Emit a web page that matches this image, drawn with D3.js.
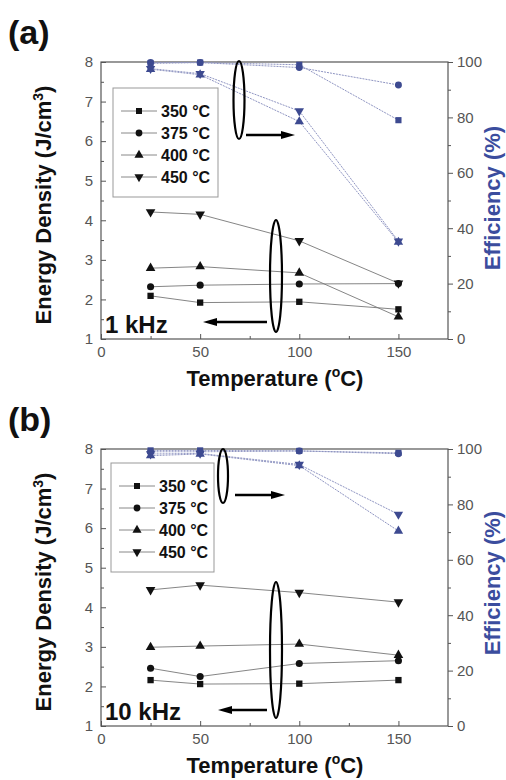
<!DOCTYPE html>
<html>
<head>
<meta charset="utf-8">
<script src="https://cdn.jsdelivr.net/npm/d3@7"></script>
<style>
  body { margin: 0; background: #fff; }
  text { font-family: "Liberation Sans", Arial, sans-serif; }
</style>
</head>
<body>
<div id="chart"></div>
<script>
// values
var temps = [25, 50, 100, 150];
var annealLabels = ["350 °C", "375 °C", "400 °C", "450 °C"];
var xTicks = [0, 50, 100, 150];
var leftTicks = [1, 2, 3, 4, 5, 6, 7, 8];
var rightTicks = [0, 20, 40, 60, 80, 100];

// (a) 1 kHz
var energyA = [
  [2.09, 1.92, 1.94, 1.75],
  [2.32, 2.36, 2.39, 2.40],
  [2.79, 2.83, 2.67, 1.56],
  [4.21, 4.15, 3.48, 2.41]
];
var effA = [
  [99.5, 99.8, 99.0, 79.0],
  [99.8, 99.8, 98.0, 91.7],
  [97.4, 95.4, 78.5, 35.0],
  [97.6, 95.8, 82.3, 35.3]
];
// (b) 10 kHz
var energyB = [
  [2.16, 2.06, 2.07, 2.16],
  [2.46, 2.25, 2.58, 2.65],
  [2.99, 3.02, 3.07, 2.79],
  [4.44, 4.56, 4.37, 4.13]
];
var effB = [
  [99.5, 99.5, 99.3, 98.6],
  [99.0, 99.0, 99.3, 98.3],
  [97.6, 98.2, 94.0, 70.4],
  [98.2, 98.4, 94.4, 76.4]
];

var width = 506, height = 780;
var blue = "#3d4a90", blueLine = "#8f95c2";

var svg = d3.select("#chart").append("svg")
  .attr("width", width)
  .attr("height", height);

var symbols = [
  {type: d3.symbolSquare, rot: 0},
  {type: d3.symbolCircle, rot: 0},
  {type: d3.symbolTriangle, rot: 0},
  {type: d3.symbolTriangle, rot: 180}
];

var x = d3.scaleLinear().domain([0, 175]).range([101, 448]);

function marker(sel, i, size) {
  return sel.append("path")
    .attr("d", d3.symbol().type(symbols[i].type).size(size))
    .attr("transform", function(d) {
      return "translate(" + d[0] + "," + d[1] + ") rotate(" + symbols[i].rot + ")";
    });
}

function drawPanel(dy, letter, freq, energy, eff, opts) {
  var g = svg.append("g").attr("transform", "translate(0," + dy + ")");
  var yL = d3.scaleLinear().domain([1, 8]).range([339, 62]);
  var yR = d3.scaleLinear().domain([0, 100]).range([339, 62]);

  // axes
  g.append("g").attr("transform", "translate(0,339)")
    .call(d3.axisBottom(x).tickValues(xTicks).tickSizeInner(-5).tickSizeOuter(0).tickPadding(7));
  g.append("g").attr("transform", "translate(0,339)")
    .call(d3.axisBottom(x).tickValues([25, 75, 125]).tickSizeInner(-3).tickSizeOuter(0).tickFormat(""));
  g.append("g").attr("transform", "translate(101,0)")
    .call(d3.axisLeft(yL).tickValues(leftTicks).tickFormat(d3.format("d"))
      .tickSizeInner(-5).tickSizeOuter(0).tickPadding(8));
  g.append("g").attr("transform", "translate(101,0)")
    .call(d3.axisLeft(yL).tickValues(d3.range(1.5, 8, 1)).tickSizeInner(-3).tickSizeOuter(0).tickFormat(""));
  g.append("g").attr("transform", "translate(448,0)")
    .call(d3.axisRight(yR).tickValues(rightTicks).tickSizeInner(5).tickSizeOuter(0).tickPadding(4));
  g.append("g").attr("transform", "translate(448,0)")
    .call(d3.axisRight(yR).tickValues(d3.range(10, 100, 20)).tickSizeInner(3).tickSizeOuter(0).tickFormat(""));
  g.selectAll(".domain").remove();
  g.selectAll(".tick line").attr("stroke", "#555");
  g.selectAll(".tick text").attr("fill", "#555").style("font-size", "15px")
    .style("font-family", "'Liberation Sans', Arial, sans-serif");

  g.append("rect").attr("x", 101).attr("y", 62).attr("width", 347).attr("height", 277)
    .attr("fill", "none").attr("stroke", "#555").attr("stroke-width", 1.2);

  // efficiency series (blue)
  eff.forEach(function(s, i) {
    var pts = temps.map(function(t, j) { return [x(t), yR(s[j])]; });
    g.append("path").datum(pts)
      .attr("d", d3.line())
      .attr("fill", "none").attr("stroke", blueLine)
      .attr("stroke-width", 1).attr("stroke-dasharray", "2,1");
    var mg = g.append("g").attr("fill", blue);
    pts.forEach(function(p) { marker(mg.datum(p), i, 38); });
  });

  // energy series (black)
  energy.forEach(function(s, i) {
    var pts = temps.map(function(t, j) { return [x(t), yL(s[j])]; });
    g.append("path").datum(pts)
      .attr("d", d3.line())
      .attr("fill", "none").attr("stroke", "#777").attr("stroke-width", 0.9);
    var mg = g.append("g").attr("fill", "#111");
    pts.forEach(function(p) { marker(mg.datum(p), i, 40); });
  });

  // legend
  var lg = g.append("g");
  lg.append("rect").attr("x", opts.lx).attr("y", opts.ly).attr("width", opts.lw).attr("height", opts.lh)
    .attr("fill", "#fff").attr("stroke", "#999").attr("stroke-width", 1);
  annealLabels.forEach(function(lab, i) {
    var yy = opts.ly + 23 + i * 22;
    lg.append("line").attr("x1", opts.lx + 8).attr("x2", opts.lx + 44)
      .attr("y1", yy).attr("y2", yy).attr("stroke", "#888").attr("stroke-width", 1);
    marker(lg.append("g").datum([opts.lx + 26, yy]).attr("fill", "#111"), i, 36);
    lg.append("text").attr("x", opts.lx + 48).attr("y", yy + 6)
      .style("font-size", "16px").style("font-weight", "bold").attr("fill", "#111")
      .text(lab);
  });

  // ellipses and arrows
  function ell(cx, cy, rx, ry) {
    g.append("ellipse").attr("cx", cx).attr("cy", cy).attr("rx", rx).attr("ry", ry)
      .attr("fill", "none").attr("stroke", "#000").attr("stroke-width", 2.2);
  }
  function arrow(x1, x2, yy) {
    var dir = x2 > x1 ? 1 : -1;
    g.append("line").attr("x1", x1).attr("x2", x2 - dir * 10).attr("y1", yy).attr("y2", yy)
      .attr("stroke", "#000").attr("stroke-width", 2.5);
    g.append("path")
      .attr("d", "M" + x2 + "," + yy + "L" + (x2 - dir * 14) + "," + (yy - 4) + "L" + (x2 - dir * 14) + "," + (yy + 4) + "Z")
      .attr("fill", "#000");
  }
  ell(opts.e1[0], opts.e1[1], opts.e1[2], opts.e1[3]);
  arrow(opts.a1[0], opts.a1[1], opts.a1[2]);
  ell(opts.e2[0], opts.e2[1], opts.e2[2], opts.e2[3]);
  arrow(opts.a2[0], opts.a2[1], opts.a2[2]);

  g.append("text").attr("x", 105).attr("y", 333)
    .style("font-size", "24px").style("font-weight", "bold").attr("fill", "#111")
    .text(freq);

  // titles
  g.append("text").attr("x", 8).attr("y", 44)
    .style("font-size", "34px").style("font-weight", "bold").attr("fill", "#111")
    .text(letter);

  var xt = g.append("text").attr("x", 275).attr("y", 386).attr("text-anchor", "middle")
    .style("font-size", "22px").style("font-weight", "bold").attr("fill", "#111");
  xt.append("tspan").text("Temperature (");
  xt.append("tspan").attr("dy", -9).style("font-size", "14px").text("o");
  xt.append("tspan").attr("dy", 9).text("C)");

  var yt = g.append("text").attr("transform", "translate(51,205) rotate(-90)")
    .attr("text-anchor", "middle")
    .style("font-size", "22px").style("font-weight", "bold").attr("fill", "#111");
  yt.append("tspan").text("Energy Density (J/cm");
  yt.append("tspan").attr("dy", -8).style("font-size", "14px").text("3");
  yt.append("tspan").attr("dy", 8).text(")");

  g.append("text").attr("transform", "translate(500," + opts.rty + ") rotate(-90)")
    .attr("text-anchor", "middle")
    .style("font-size", "22px").style("font-weight", "bold").attr("fill", "#3b4d9e")
    .text("Efficiency (%)");
}

drawPanel(0, "(a)", "1 kHz", energyA, effA, {
  lx: 113, ly: 88, lw: 105, lh: 109,
  e1: [239, 100, 5.5, 39], a1: [246, 295, 135],
  e2: [276, 276, 6, 56], a2: [267, 203, 322],
  rty: 198
});
drawPanel(387, "(b)", "10 kHz", energyB, effB, {
  lx: 111, ly: 76, lw: 103, lh: 109,
  e1: [223, 89, 5, 27], a1: [235, 285, 108],
  e2: [276, 263, 6, 68], a2: [267, 218, 323],
  rty: 196
});
</script>
</body>
</html>
